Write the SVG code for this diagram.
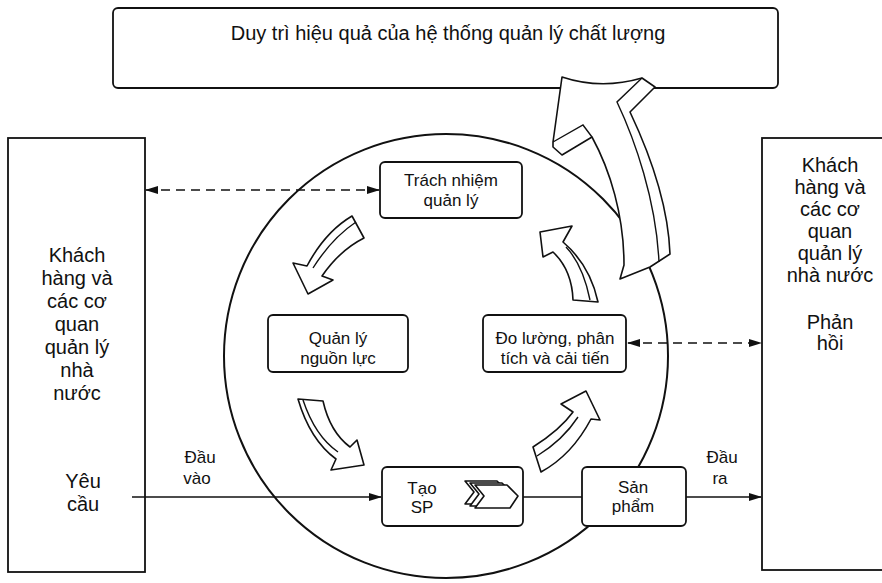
<svg xmlns="http://www.w3.org/2000/svg" width="882" height="583" viewBox="0 0 882 583">
<style>
.box{fill:#fff;stroke:#111;stroke-width:1.8}
.t{font-family:"Liberation Sans",Arial,sans-serif;fill:#111;text-anchor:middle}
.side{font-size:20px}
.in{font-size:17px}
.ln{fill:none;stroke:#111;stroke-width:1.6}
.dash{stroke-dasharray:9 6}
.arr{fill:#fff;stroke:#111;stroke-width:1.6;stroke-linejoin:round}
.edge{fill:none;stroke:#111;stroke-width:1.4}
</style>
<defs>
<marker id="ah" markerUnits="userSpaceOnUse" markerWidth="13" markerHeight="8" refX="12" refY="4" orient="auto-start-reverse"><path d="M0,0 L13,4 L0,8 z" fill="#111"/></marker>
</defs>
<rect width="882" height="583" fill="#fff"/>

<g id="goal">
<rect class="box" x="113" y="8" width="665" height="80" rx="5"/>
<text class="t" x="448" y="40" font-size="20">Duy trì hiệu quả của hệ thống quản lý chất lượng</text>
</g>

<g id="customers-left">
<rect class="box" x="8" y="138" width="137" height="434"/>
<text class="t side"><tspan x="77" y="262">Khách</tspan><tspan x="77" y="285">hàng và</tspan><tspan x="77" y="308">các cơ</tspan><tspan x="77" y="331">quan</tspan><tspan x="77" y="354">quản lý</tspan><tspan x="77" y="377">nhà</tspan><tspan x="77" y="400">nước</tspan></text>
<text class="t side"><tspan x="83" y="488">Yêu</tspan><tspan x="83" y="511">cầu</tspan></text>
</g>

<g id="customers-right">
<rect class="box" x="762" y="138" width="130" height="432"/>
<text class="t side"><tspan x="830" y="172">Khách</tspan><tspan x="830" y="194">hàng và</tspan><tspan x="830" y="216">các cơ</tspan><tspan x="830" y="238">quan</tspan><tspan x="830" y="260">quản lý</tspan><tspan x="830" y="282">nhà nước</tspan></text>
<text class="t side"><tspan x="830" y="329">Phản</tspan><tspan x="830" y="350">hồi</tspan></text>
</g>

<g id="cycle">
<circle cx="446" cy="356" r="222" fill="none" stroke="#111" stroke-width="2"/>
</g>

<g id="improve-arrow">
<path class="arr" d="M562,77 Q601,90 642,78 L655,87 L630,112 C648,150 668,200 670,254 L650,267 L620,279 L624,265 C624,215 610,170 592,137 L562,155 L553,147 L553,142 Z"/>
<path class="edge" d="M553,142 L583,125 L592,137"/>
<path class="edge" d="M642,78 L617,102 C635,140 656,200 659,262"/>
</g>

<g id="connectors">
<line class="ln dash" x1="146" y1="190" x2="379" y2="190" marker-start="url(#ah)" marker-end="url(#ah)"/>
<line class="ln dash" x1="628" y1="343" x2="761" y2="343" marker-start="url(#ah)" marker-end="url(#ah)"/>
<line class="ln" x1="132" y1="497" x2="381" y2="497" marker-end="url(#ah)"/>
<line class="ln" x1="523" y1="497" x2="582" y2="497"/>
<line class="ln" x1="686" y1="497" x2="761" y2="497" marker-end="url(#ah)"/>
<text class="t in"><tspan x="200" y="463">Đầu</tspan><tspan x="197" y="484">vào</tspan></text>
<text class="t in"><tspan x="722" y="463">Đầu</tspan><tspan x="720" y="484">ra</tspan></text>
</g>

<g id="cycle-arrows">
<path class="arr" d="M352,216 Q325,232 307,266 L293,263 L308,294 L333,280 L322,276 Q340,250 364,238 Z"/>
<path class="edge" d="M356,222 Q332,238 313,268"/>
<path class="arr" d="M298,399 Q310,440 336,459 L331,470 L364,465 L357,440 L350,447 Q330,432 323,401 Z"/>
<path class="edge" d="M303,400 Q315,436 338,452"/>
<path class="arr" d="M533,447 Q560,430 573,412 L561,404 L586,391 L600,420 L591,419 Q572,455 541,472 Z"/>
<path class="edge" d="M537,456 Q563,440 578,417"/>
<path class="arr" d="M573,300 Q572,270 553,252 L543,257 L540,232 L572,226 L563,242 Q590,265 598,302 Z"/>
<path class="edge" d="M590,300 Q583,265 566,247"/>
</g>

<g id="responsibility">
<rect class="box" x="380" y="162" width="142" height="56" rx="5"/>
<text class="t in"><tspan x="451" y="186">Trách nhiệm</tspan><tspan x="451" y="206">quản lý</tspan></text>
</g>

<g id="resources">
<rect class="box" x="268" y="315" width="140" height="57" rx="5"/>
<text class="t in"><tspan x="338" y="344">Quản lý</tspan><tspan x="338" y="364">nguồn lực</tspan></text>
</g>

<g id="measurement">
<rect class="box" x="483" y="315" width="143" height="57" rx="5"/>
<text class="t in"><tspan x="555" y="344">Đo lường, phân</tspan><tspan x="555" y="364">tích và cải tiến</tspan></text>
</g>

<g id="realization">
<rect class="box" x="382" y="467" width="141" height="59" rx="5"/>
<text class="t in"><tspan x="422" y="494">Tạo</tspan><tspan x="422" y="513">SP</tspan></text>
<polygon class="arr" points="465,481 497,481 508,492 500,504 465,504 474,492"/>
<polygon class="arr" points="470,483 502,483 513,494 505,506 470,506 479,494"/>
<polygon class="arr" points="475,485 507,485 518,496 510,508 475,508 484,496"/>
</g>

<g id="product">
<rect class="box" x="582" y="467" width="104" height="59" rx="5"/>
<text class="t in"><tspan x="633" y="493">Sản</tspan><tspan x="633" y="512">phẩm</tspan></text>
</g>
</svg>
